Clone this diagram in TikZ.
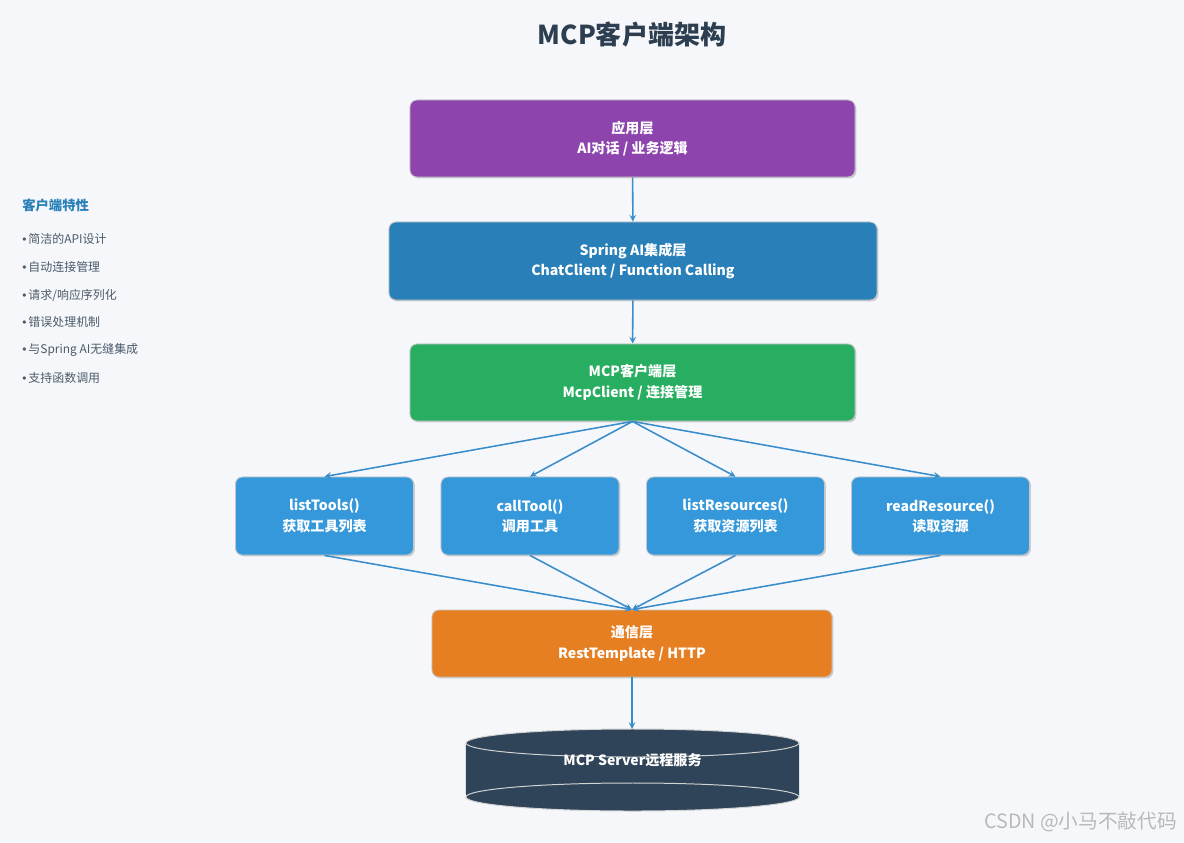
\documentclass[tikz,border=0pt]{standalone}
\usepackage{fontspec}
\setmainfont{Noto Sans CJK SC}
\newfontfamily\bulletfont{Liberation Sans}
\usetikzlibrary{shadows}
\definecolor{bgc}{HTML}{F5F7FA}
\definecolor{appc}{HTML}{8E44AD}
\definecolor{springc}{HTML}{2980B9}
\definecolor{mcpc}{HTML}{27AE60}
\definecolor{opc}{HTML}{3498DB}
\definecolor{commc}{HTML}{E67E22}
\definecolor{srvc}{HTML}{2F4459}
\definecolor{titc}{HTML}{2C3E50}
\definecolor{arrc}{HTML}{3A8DCB}
\newcommand{\featitem}[1]{{\bulletfont •}\,#1}
\tikzset{
  layer/.style={rounded corners=5pt,draw=gray!45,line width=0.6pt,text=white,
    font=\fontsize{10}{14.5}\selectfont\bfseries,align=center,
    drop shadow={shadow xshift=1pt,shadow yshift=-1pt,opacity=0.35}},
  link/.style={arrc,line width=1.1pt,-stealth},
  feat/.style={anchor=west,inner sep=0pt,text=titc!85,font=\fontsize{8.5}{10}\selectfont}
}
\begin{document}
\begin{tikzpicture}[x=0.025cm,y=-0.025cm]
\fill[bgc](0,0)rectangle(1184,842);
\useasboundingbox(0,0)rectangle(1184,842);
%title
\node[text=titc,font=\fontsize{18.5}{20}\selectfont\bfseries](title)at(632,35){MCP客户端架构};
%layers
\node[layer,fill=appc,minimum width=11.125cm,minimum height=1.925cm](app)at(632.5,138.5){应用层\\AI对话 / 业务逻辑};
\node[layer,fill=springc,minimum width=12.2cm,minimum height=1.95cm](spring)at(633,261){Spring AI集成层\\ChatClient / Function Calling};
\node[layer,fill=mcpc,minimum width=11.125cm,minimum height=1.925cm](mcp)at(632.5,382.5){MCP客户端层\\McpClient / 连接管理};
\node[layer,fill=opc,minimum width=4.45cm,minimum height=1.95cm](lt)at(324.5,516){listTools()\\获取工具列表};
\node[layer,fill=opc,minimum width=4.45cm,minimum height=1.95cm](ct)at(530,516){callTool()\\调用工具};
\node[layer,fill=opc,minimum width=4.45cm,minimum height=1.95cm](lr)at(735.5,516){listResources()\\获取资源列表};
\node[layer,fill=opc,minimum width=4.45cm,minimum height=1.95cm](rr)at(940.5,516){readResource()\\读取资源};
\node[layer,fill=commc,minimum width=10cm,minimum height=1.675cm](comm)at(632,643.5){通信层\\RestTemplate / HTTP};
%server
\fill[srvc](466,797)arc[start angle=180,end angle=360,x radius=4.1625cm,y radius=0.35cm]
  --(799,743)arc[start angle=0,end angle=180,x radius=4.1625cm,y radius=0.35cm]--cycle;
\draw[gray!35,line width=0.7pt](632.5,743)ellipse[x radius=4.1625cm,y radius=0.35cm];
\draw[gray!35,line width=0.7pt](632.5,797)ellipse[x radius=4.1625cm,y radius=0.35cm];
\node[text=white,font=\fontsize{10}{12}\selectfont\bfseries](srv)at(632.5,760){MCP Server远程服务};
\coordinate(srvtop)at(632,729);
%arrows
\draw[link](app)--(spring);
\draw[link](spring)--(mcp);
\foreach \n in {lt,ct,lr,rr}{
  \draw[link](mcp.south)--(\n.north);
  \draw[link](\n.south)--(comm.north);
}
\draw[link](comm)--(srvtop);
%features
\node[anchor=west,inner sep=0pt,text=springc,font=\fontsize{9.5}{11}\selectfont\bfseries](fhead)at(22,205){客户端特性};
\node[feat](f1)at(22,239){\featitem{简洁的API设计}};
\node[feat](f2)at(22,267){\featitem{自动连接管理}};
\node[feat](f3)at(22,295){\featitem{请求/响应序列化}};
\node[feat](f4)at(22,322){\featitem{错误处理机制}};
\node[feat](f5)at(22,350){\featitem{与Spring AI无缝集成}};
\node[feat](f6)at(22,378){\featitem{支持函数调用}};
%watermark
\node[anchor=east,text=gray!55,font=\fontsize{14}{16}\selectfont](wm)at(1182,822){CSDN @小马不敲代码};
\end{tikzpicture}
\end{document}
